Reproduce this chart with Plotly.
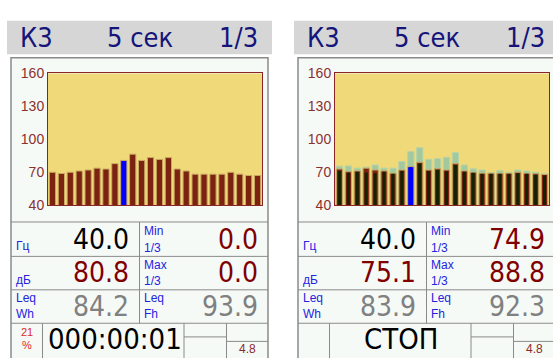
import plotly.graph_objects as go

# 1/3-octave band centre frequencies shown on one page (Hz)
freqs = ["6.3", "8", "10", "12.5", "16", "20", "25", "31.5", "40", "50", "63", "80",
         "100", "125", "160", "200", "250", "315", "400", "500", "630", "800", "1000", "1250"]
sel = 8  # highlighted band (40 Hz)

# left screen: running levels, dB
left_level = [70.0, 68.9, 70.0, 71.2, 72.1, 73.8, 73.0, 77.9, 80.8, 86.5, 80.8, 83.4,
              81.7, 83.4, 73.0, 71.2, 68.3, 68.3, 68.3, 68.3, 70.0, 68.3, 67.1, 67.1]
left_min_sel, left_max_sel = 0.0, 0.0
left_leq_wh, left_leq_fh = 84.2, 93.9

# right screen: level, maximum and minimum per band, dB
right_level = [73.0, 70.4, 71.2, 73.8, 72.1, 71.2, 69.1, 72.1, 75.1, 79.1, 72.1, 73.2,
               72.1, 77.8, 71.2, 70.0, 69.1, 69.1, 69.1, 69.1, 70.0, 69.1, 68.6, 68.0]
right_max = [75.6, 75.8, 73.8, 74.7, 76.7, 73.8, 73.8, 79.9, 88.8, 92.4, 81.7, 82.5,
             83.7, 88.0, 76.7, 73.2, 72.1, 69.8, 71.5, 70.0, 72.1, 71.2, 70.0, 68.6]
right_min = [71.2, 69.8, 70.6, 69.8, 69.1, 70.4, 68.6, 71.2, 74.9, 77.8, 71.2, 72.1,
             70.9, 76.7, 70.6, 69.5, 68.6, 68.6, 68.6, 68.6, 69.1, 68.6, 67.8, 67.1]
right_leq_wh, right_leq_fh = 83.9, 92.3

y_ticks = [40, 70, 100, 130, 160]
header_texts = ["К3", "5 сек", "1/3"]

W, H = 553, 358
SHIFT = 287  # horizontal offset of the second screen

NAVY = "#14147a"
BLUE = "#2424e0"
DRED = "#800000"
GREY = "#808080"
AXIS_RED = "#8b3030"
BAR_RED = "#7c2210"
BAR_EDGE = "#c9a862"
YELLOW = "#efd978"
PANEL = "#f5faf7"
LINE = "#8a8a8a"
BIG = "DejaVu Sans Condensed, Liberation Sans, sans-serif"
SMALL = "Liberation Sans, sans-serif"


def px(x):
    return x / W


def py(y):
    return 1 - y / H


shapes = []
annotations = []


def rect(x0, y0, x1, y1, fill=None, line=None, lw=1):
    shapes.append(dict(type="rect", xref="paper", yref="paper", layer="below",
                       x0=px(x0), x1=px(x1), y0=py(y1), y1=py(y0),
                       fillcolor=fill or "rgba(0,0,0,0)",
                       line=dict(color=line or "rgba(0,0,0,0)", width=lw if line else 0)))


def hline(x0, x1, y):
    shapes.append(dict(type="line", xref="paper", yref="paper", layer="below",
                       x0=px(x0), x1=px(x1), y0=py(y), y1=py(y),
                       line=dict(color=LINE, width=1)))


def vline(x, y0, y1):
    shapes.append(dict(type="line", xref="paper", yref="paper", layer="below",
                       x0=px(x), x1=px(x), y0=py(y0), y1=py(y1),
                       line=dict(color=LINE, width=1)))


def text(t, x, y, size, color, anchor="left", family=SMALL, vanchor="middle"):
    annotations.append(dict(text=t, xref="paper", yref="paper", x=px(x), y=py(y),
                            xanchor=anchor, yanchor=vanchor, showarrow=False,
                            borderpad=0, font=dict(size=size, color=color, family=family)))


plot_x = (48, 262)
plot_y = (68.5, 206.5)


def screen(ox, level, vmin, vmax, leq_wh, leq_fh, status):
    # header band
    rect(ox + 7, 13.3, ox + 272, 48.3, fill="#d6d6d6")
    text(header_texts[0], ox + 19, 30.5, 27, NAVY, "left", BIG)
    text(header_texts[1], ox + 140, 30.5, 27, NAVY, "center", BIG)
    text(header_texts[2], ox + 259, 30.5, 27, NAVY, "right", BIG)
    # panel body and plot background
    rect(ox + 11, 52, ox + 268, 370, fill=PANEL, line=LINE, lw=1.5)
    rect(ox + plot_x[0], plot_y[0], ox + plot_x[1], plot_y[1], fill=YELLOW)
    # readout grid
    for y in (224, 260, 295, 330):
        hline(ox + 11, ox + 268, y)
    vline(ox + 139.5, 224, 330)
    for x in (42.5, 184, 226.5):
        vline(ox + x, 330, 370)
    hline(ox + 184, ox + 226.5, 344.3)
    hline(ox + 226.5, ox + 268, 349)

    # readouts
    text("Гц", ox + 15, 249.5, 12, BLUE)
    text(f"{float(freqs[sel]):.1f}", ox + 130, 242, 28, "#000000", "right", BIG)
    text("Min", ox + 143, 233, 12, BLUE)
    text("1/3", ox + 143, 251, 12, BLUE)
    text(f"{vmin:.1f}", ox + 259, 242, 28, DRED, "right", BIG)

    text("дБ", ox + 15, 285, 12, BLUE)
    text(f"{level[sel]:.1f}", ox + 130, 277, 28, DRED, "right", BIG)
    text("Max", ox + 143, 269.5, 12, BLUE)
    text("1/3", ox + 143, 286, 12, BLUE)
    text(f"{vmax:.1f}", ox + 259, 277, 28, DRED, "right", BIG)

    text("Leq", ox + 15, 304, 12, BLUE)
    text("Wh", ox + 15, 320, 12, BLUE)
    text(f"{leq_wh:.1f}", ox + 130, 312, 28, GREY, "right", BIG)
    text("Leq", ox + 143, 304, 12, BLUE)
    text("Fh", ox + 143, 320, 12, BLUE)
    text(f"{leq_fh:.1f}", ox + 259, 312, 28, GREY, "right", BIG)

    text("4.8", ox + 247.5, 349, 12, "#8b2a2a", "center", SMALL, "top")
    status(ox)


def left_status(ox):
    text("21", ox + 26.5, 339, 11, "#e02828", "center")
    text("%", ox + 26.5, 353, 11, "#e02828", "center")
    text("000:00:01", ox + 47, 346, 29, "#000000", "left", BIG)


def right_status(ox):
    text("СТОП", ox + 113.5, 346, 29, "#000000", "center", BIG)


screen(0, left_level, left_min_sel, left_max_sel, left_leq_wh, left_leq_fh, left_status)
screen(SHIFT, right_level, right_min[sel], right_max[sel], right_leq_wh, right_leq_fh, right_status)

main_colors = [("#0000ff" if i == sel else BAR_RED) for i in range(len(freqs))]
inner_colors = [("#0000ff" if i == sel else "#132200") for i in range(len(freqs))]

fig = go.Figure()
# left screen bars
fig.add_trace(go.Bar(x=freqs, y=left_level, width=0.7, marker=dict(color=main_colors,
                     line=dict(color=BAR_EDGE, width=1)), xaxis="x", yaxis="y",
                     hoverinfo="skip"))
# right screen: max (green), level, min (dark core)
fig.add_trace(go.Bar(x=freqs, y=right_max, width=0.7, marker=dict(color="#a2c89f",
                     line=dict(color="#b9d4a6", width=1)), xaxis="x2", yaxis="y2",
                     hoverinfo="skip"))
fig.add_trace(go.Bar(x=freqs, y=right_level, width=0.7, marker=dict(color=main_colors,
                     line=dict(color=BAR_EDGE, width=1)), xaxis="x2", yaxis="y2",
                     hoverinfo="skip"))
fig.add_trace(go.Bar(x=freqs, y=right_min, width=0.34, marker=dict(color=inner_colors,
                     line=dict(width=0)), xaxis="x2", yaxis="y2", hoverinfo="skip"))

xax = dict(type="category", range=[-0.5, len(freqs) - 0.5], showticklabels=False,
           ticks="", showgrid=False, zeroline=False, showline=True, mirror=True,
           linecolor="#8b2525", linewidth=1, fixedrange=True)
yax = dict(range=[40, 160], tickvals=y_ticks, ticktext=[str(v) for v in y_ticks],
           tickfont=dict(size=14, color=AXIS_RED, family=SMALL), ticks="",
           showgrid=False, zeroline=False, showline=True, mirror=True,
           linecolor="#8b2525", linewidth=1, fixedrange=True,
           domain=[py(plot_y[1]), py(plot_y[0])])

fig.update_layout(
    width=W, height=H, margin=dict(l=0, r=0, t=0, b=0),
    paper_bgcolor="#ffffff", plot_bgcolor="rgba(0,0,0,0)",
    barmode="overlay", showlegend=False,
    xaxis=dict(xax, domain=[px(plot_x[0]), px(plot_x[1])], anchor="y"),
    yaxis=dict(yax, anchor="x"),
    xaxis2=dict(xax, domain=[px(plot_x[0] + SHIFT), px(plot_x[1] + SHIFT)], anchor="y2"),
    yaxis2=dict(yax, anchor="x2"),
    shapes=shapes, annotations=annotations,
)

fig.write_html("out.html")
